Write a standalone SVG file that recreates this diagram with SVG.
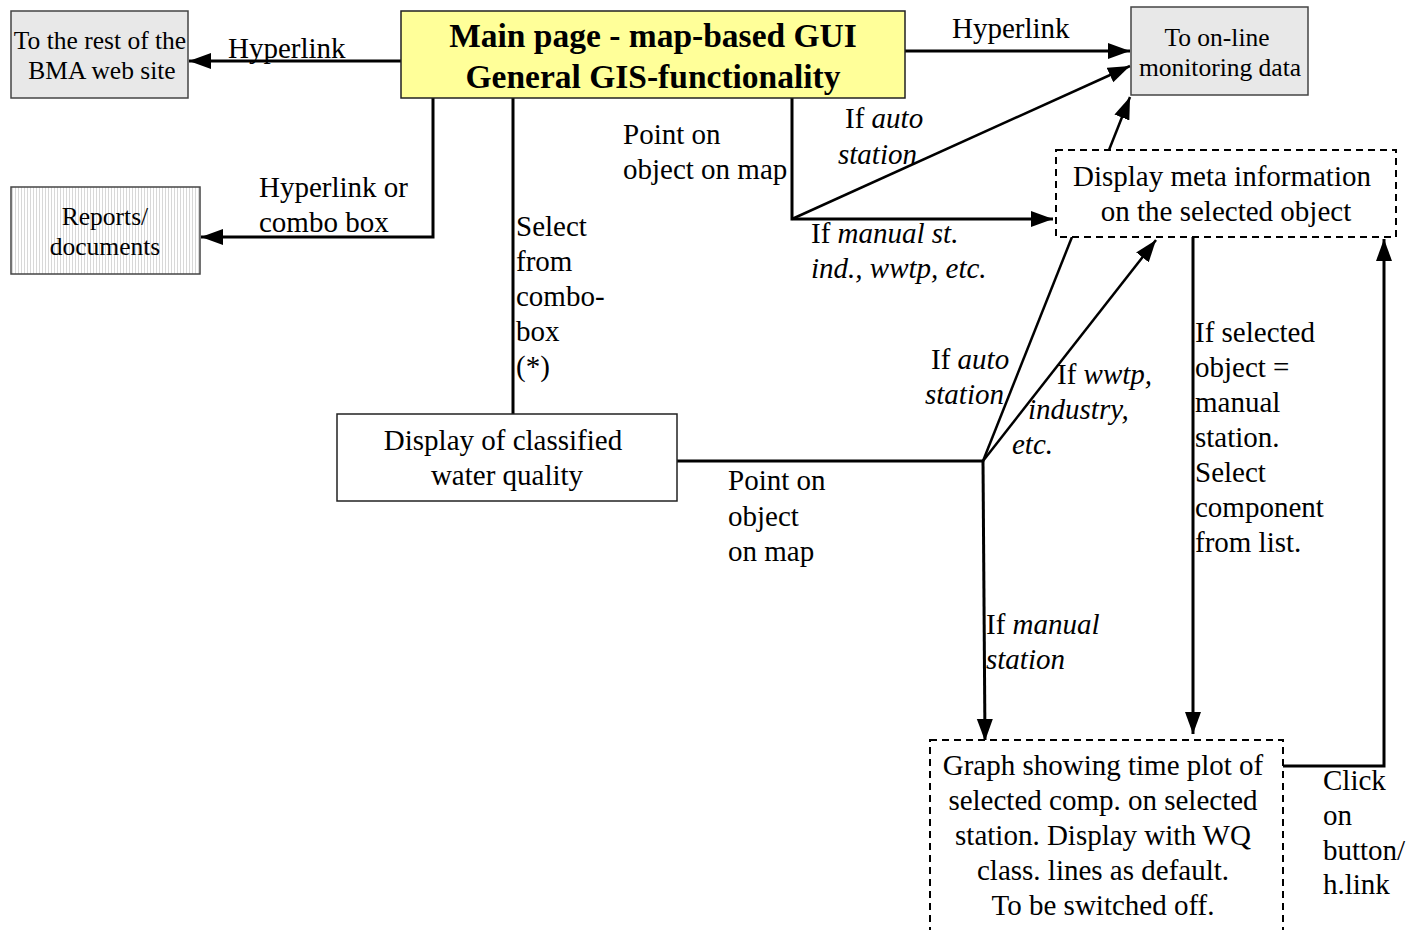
<svg xmlns="http://www.w3.org/2000/svg" width="1407" height="930" viewBox="0 0 1407 930">
<defs>
<marker id="arr" markerUnits="userSpaceOnUse" markerWidth="24" markerHeight="18" refX="22" refY="8" orient="auto">
<path d="M0,0 L22,8 L0,16 z" fill="#000"/>
</marker>
<pattern id="hatch" width="3" height="10" patternUnits="userSpaceOnUse">
<rect width="3" height="10" fill="#fff"/>
<rect width="1" height="10" fill="#d8d8d8"/>
</pattern>
<style>
text{font-family:"Liberation Serif","Times New Roman",serif;fill:#000}
.lbl{font-size:29px}
.box{font-size:29px;text-anchor:middle}
.sm{font-size:25.5px;text-anchor:middle}
.it{font-style:italic}
.ln{stroke:#000;stroke-width:3;fill:none}
.thin{stroke:#000;stroke-width:2.5;fill:none}
.grey{fill:#e8e8e8;stroke:#444;stroke-width:1.5}
.dash{fill:#fff;stroke:#000;stroke-width:2;stroke-dasharray:7 5}
</style>
</defs>
<rect width="1407" height="930" fill="#fff"/>

<g id="connectors">
<line class="ln" x1="401" y1="61" x2="189" y2="61" marker-end="url(#arr)"/>
<polyline class="ln" points="433,98 433,237 201,237" marker-end="url(#arr)"/>
<line class="ln" x1="513" y1="98" x2="513" y2="414"/>
<line class="ln" x1="905" y1="51" x2="1130" y2="51" marker-end="url(#arr)"/>
<polyline class="ln" points="792,98 792,219 1053,219" marker-end="url(#arr)"/>
<line class="thin" x1="792" y1="219" x2="1130" y2="66" marker-end="url(#arr)"/>
<line class="thin" x1="1109" y1="150" x2="1130" y2="97" marker-end="url(#arr)"/>
<line class="ln" x1="677" y1="461" x2="983" y2="461"/>
<line class="thin" x1="983" y1="461" x2="1072" y2="237"/>
<line class="thin" x1="983" y1="461" x2="1156" y2="240" marker-end="url(#arr)"/>
<line class="ln" x1="983" y1="461" x2="985" y2="741" marker-end="url(#arr)"/>
<line class="ln" x1="1193" y1="237" x2="1193" y2="734" marker-end="url(#arr)"/>
<polyline class="ln" points="1283,766 1384,766 1384,239" marker-end="url(#arr)"/>
</g>

<g id="labels">
<text class="lbl" x="228" y="58">Hyperlink</text>
<text class="lbl" x="259" y="197">Hyperlink or</text>
<text class="lbl" x="259" y="232">combo box</text>
<text class="lbl" x="516" y="236">Select</text>
<text class="lbl" x="516" y="271">from</text>
<text class="lbl" x="516" y="306">combo-</text>
<text class="lbl" x="516" y="341">box</text>
<text class="lbl" x="516" y="376">(*)</text>
<text class="lbl" x="952" y="38">Hyperlink</text>
<text class="lbl" x="623" y="144">Point on</text>
<text class="lbl" x="623" y="179">object on map</text>
<text class="lbl" x="845" y="128">If <tspan class="it">auto</tspan></text>
<text class="lbl it" x="838" y="164">station</text>
<text class="lbl" x="811" y="243">If <tspan class="it">manual st.</tspan></text>
<text class="lbl it" x="811" y="278">ind., wwtp, etc.</text>
<text class="lbl" x="728" y="490">Point on</text>
<text class="lbl" x="728" y="526">object</text>
<text class="lbl" x="728" y="561">on map</text>
<text class="lbl" x="931" y="369">If <tspan class="it">auto</tspan></text>
<text class="lbl it" x="925" y="404">station</text>
<text class="lbl" x="1057" y="384">If <tspan class="it">wwtp,</tspan></text>
<text class="lbl it" x="1028" y="419">industry,</text>
<text class="lbl it" x="1012" y="454">etc.</text>
<text class="lbl" x="986" y="634">If <tspan class="it">manual</tspan></text>
<text class="lbl it" x="986" y="669">station</text>
<text class="lbl" x="1195" y="342">If selected</text>
<text class="lbl" x="1195" y="377">object =</text>
<text class="lbl" x="1195" y="412">manual</text>
<text class="lbl" x="1195" y="447">station.</text>
<text class="lbl" x="1195" y="482">Select</text>
<text class="lbl" x="1195" y="517">component</text>
<text class="lbl" x="1195" y="552">from list.</text>
<text class="lbl" x="1323" y="790">Click</text>
<text class="lbl" x="1323" y="825">on</text>
<text class="lbl" x="1323" y="860">button/</text>
<text class="lbl" x="1323" y="894">h.link</text>
</g>

<g id="node-bma">
<rect class="grey" x="11" y="11" width="177" height="87"/>
<text class="sm" x="100" y="49">To the rest of the</text>
<text class="sm" x="102" y="79">BMA web site</text>
</g>

<g id="node-reports">
<rect x="11" y="187" width="189" height="87" fill="url(#hatch)" stroke="#444" stroke-width="1.5"/>
<text class="sm" x="105" y="225">Reports/</text>
<text class="sm" x="105" y="255">documents</text>
</g>

<g id="node-main">
<rect x="401" y="11" width="504" height="87" fill="#ffff99" stroke="#222" stroke-width="1.5"/>
<text x="653" y="47" font-size="33.5" font-weight="bold" text-anchor="middle">Main page - map-based GUI</text>
<text x="653" y="88" font-size="33.5" font-weight="bold" text-anchor="middle">General GIS-functionality</text>
</g>

<g id="node-online">
<rect class="grey" x="1131" y="7" width="177" height="88"/>
<text class="sm" x="1217" y="46">To on-line</text>
<text class="sm" x="1220" y="76">monitoring data</text>
</g>

<g id="node-meta">
<rect class="dash" x="1056" y="150" width="340" height="87"/>
<text class="box" x="1222" y="186">Display meta information</text>
<text class="box" x="1226" y="221">on the selected object</text>
</g>

<g id="node-classified">
<rect x="337" y="414" width="340" height="87" fill="#fff" stroke="#222" stroke-width="1.5"/>
<text class="box" x="503" y="450">Display of classified</text>
<text class="box" x="507" y="485">water quality</text>
</g>

<g id="node-graph">
<rect class="dash" x="930" y="740" width="353" height="200"/>
<text class="box" x="1103" y="775">Graph showing time plot of</text>
<text class="box" x="1103" y="810">selected comp. on selected</text>
<text class="box" x="1103" y="845">station. Display with WQ</text>
<text class="box" x="1103" y="880">class. lines as default.</text>
<text class="box" x="1103" y="915">To be switched off.</text>
</g>
</svg>
